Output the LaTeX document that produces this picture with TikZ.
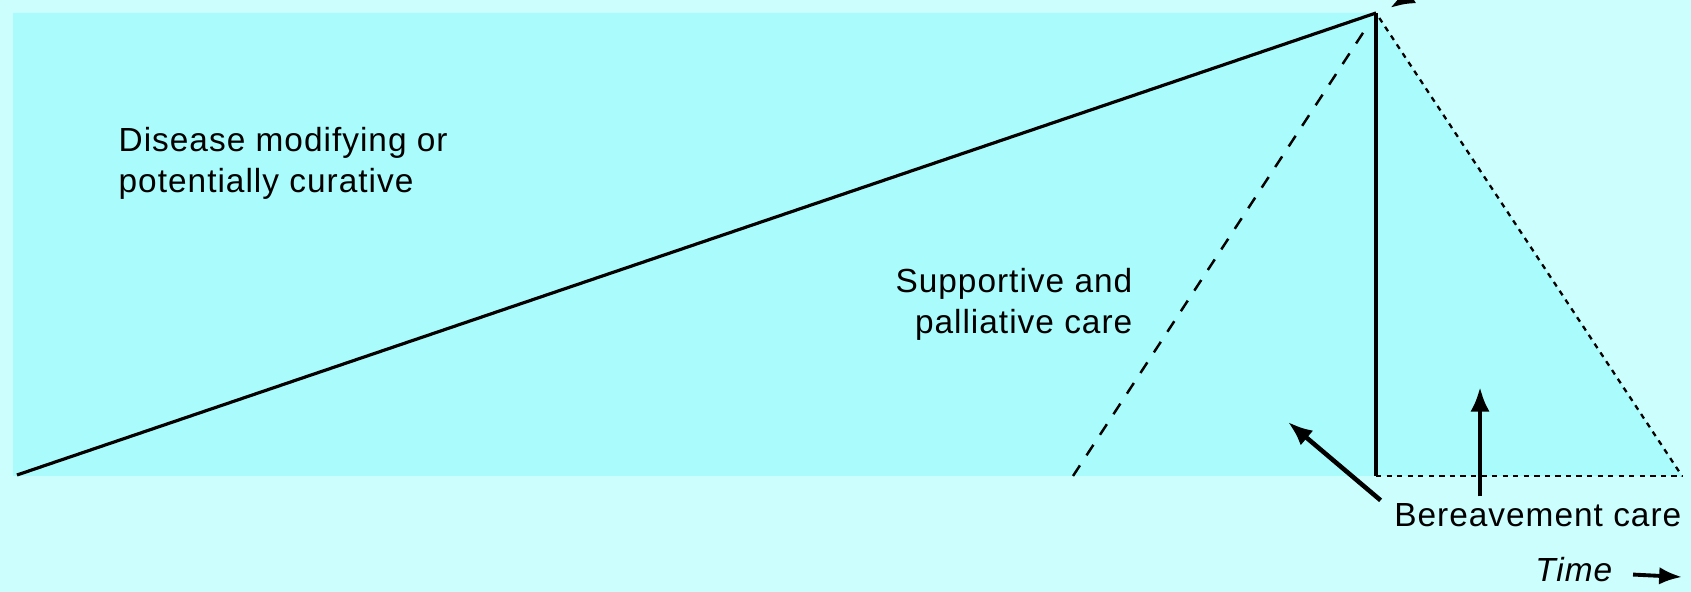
\documentclass[tikz,border=0pt]{standalone}
\usepackage{fontspec}
\setmainfont{Liberation Sans}[LetterSpace=3]
\usetikzlibrary{arrows.meta}
\definecolor{paleaqua}{HTML}{CCFEFE}
\definecolor{careaqua}{HTML}{AAFCFC}

\begin{document}
\begin{tikzpicture}[
  x=0.01cm, y=-0.01cm,
  every node/.style={font=\fontsize{9.5}{11.7}\selectfont, inner sep=0pt},
  curveline/.style={line width=0.9pt},
  deathline/.style={line width=1.3pt},
  palldash/.style={line width=0.7pt, dash pattern=on 3.6pt off 3.4pt},
  beredash/.style={line width=0.65pt, dash pattern=on 1.5pt off 1.5pt},
  arr/.style={-{Latex[length=7pt, width=5.5pt]}, line width=1.3pt}
]

% Background and clipping
\fill[paleaqua] (0,0) rectangle (1691,592);
\clip (0,0) rectangle (1691,592);

% Key points
\coordinate (apex) at (1376,13);
\coordinate (base) at (1376,476);
\coordinate (start) at (17,475);
\coordinate (pallstart) at (1073,476);
\coordinate (bereend) at (1682,476);

% Shaded care region
\fill[careaqua] (13,13) -- (apex) -- (bereend) -- (13,476) -- cycle;

% Trajectories
\draw[curveline] (start) -- (apex);
\draw[deathline] (apex) -- (base);
\draw[palldash, shorten >=0.16cm] (pallstart) -- (apex);
\draw[beredash, shorten <=0.06cm] (apex) -- (bereend);
\draw[beredash] (base) -- (bereend);
\draw[arr] (1432,-18) -- (1390,8);

% Labels
\node[anchor=base west, align=left] (disease) at (118,193)
  {Disease modifying or\\potentially curative};
\node[anchor=base east, align=right] (supportive) at (1133,334)
  {Supportive and\\palliative care};
\node[anchor=base east] (bereave) at (1682,527) {Bereavement care};
\node[anchor=base east] (time) at (1613,582) {\itshape Time};

% Pointers
\coordinate (palltip) at (1288,422);
\coordinate (beretip) at (1480,387);
\coordinate (timeend) at (1682,577);
\draw[arr] ([shift={(-13,-3)}]bereave.north west) -- (palltip);
\draw[arr] ([yshift=0.07cm]bereave.north -| beretip) -- (beretip);
\draw[arr, line width=1.1pt, -{Latex[length=6.5pt, width=5pt]}] ([xshift=0.2cm, yshift=-0.045cm]time.east) -- (timeend);

\end{tikzpicture}
\end{document}
